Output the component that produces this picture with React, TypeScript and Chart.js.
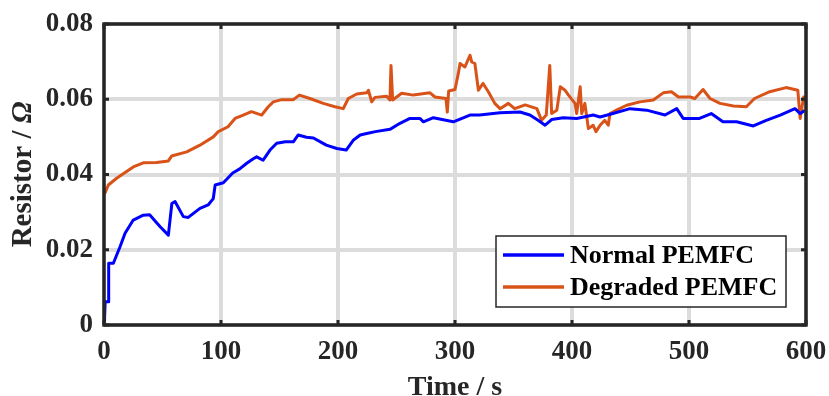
import React, { useEffect, useRef } from "react";
import { Chart, registerables } from "chart.js";

Chart.register(...registerables);

// Normal stack: time (s) and ohmic resistance (Ω)
const normalTime = [
  0, 0.5, 1, 3.7, 4, 8, 13.7, 18, 25, 33.6, 39, 48, 55, 58, 60.7, 67.8, 72, 82, 89, 93.4,
  95, 102, 110, 116, 122, 127.6, 130.5, 136, 141.9, 147.6, 155, 161.8, 166, 173, 179, 190,
  199, 207, 213, 219, 224.5, 232, 244.4, 253, 261.5, 270, 273, 281.5, 298.6, 312.8, 321,
  338.5, 355.5, 364, 371, 377, 382.6, 392.6, 404, 418, 424, 435, 449.6, 463.8, 479.5, 489.5,
  495, 509, 519, 529, 540.7, 555, 566, 578, 590.6, 595, 599,
];
const normalRes = [
  0.001, 0.002, 0.0062, 0.0062, 0.0164, 0.0164, 0.0208, 0.0244, 0.0279, 0.0292, 0.0293,
  0.0261, 0.0239, 0.0323, 0.0328, 0.0288, 0.0286, 0.031, 0.0319, 0.0336, 0.0372, 0.0378,
  0.0404, 0.0415, 0.043, 0.0442, 0.0447, 0.0438, 0.0465, 0.0483, 0.0487, 0.0487, 0.0505,
  0.0499, 0.0497, 0.0478, 0.0469, 0.0465, 0.0491, 0.0505, 0.0509, 0.0514, 0.052, 0.0536,
  0.0549, 0.0549, 0.054, 0.0551, 0.054, 0.0558, 0.0558, 0.0564, 0.0566, 0.0558, 0.0544,
  0.0531, 0.0546, 0.0551, 0.0549, 0.0558, 0.0553, 0.0562, 0.0575, 0.0571, 0.0558, 0.0575,
  0.0549, 0.0549, 0.0562, 0.054, 0.054, 0.0529, 0.0544, 0.0558, 0.0575, 0.0562, 0.057,
];

// Degraded stack: time (s) and ohmic resistance (Ω)
const degradedTime = [
  0, 1, 3.7, 10.8, 25, 33.6, 45, 55, 57.8, 70.7, 82, 93.4, 97.7, 106, 112, 119, 126, 134.8,
  140.4, 144.7, 151.9, 161.8, 167, 176, 187.4, 197.4, 204.5, 208.8, 216, 224.5, 226, 228.8,
  231.6, 241.6, 244.4, 245.3, 246.7, 254.4, 264.4, 278.6, 282.9, 292.3, 293.4, 294.6, 300,
  302.8, 304.3, 308.5, 312.8, 314.3, 317, 320, 324, 328.5, 334, 338.5, 345.6, 351, 360, 370,
  374, 378, 381, 382.6, 387, 390, 394, 397, 402.6, 404, 407, 408.3, 411, 414, 418, 420.5,
  424, 428, 431, 432.5, 438, 446.7, 458, 469.5, 478, 485, 491, 501, 505, 512, 518, 526.5,
  538, 549, 556, 569, 583, 593, 595, 598, 599.5,
];
const degradedRes = [
  0.0348, 0.0352, 0.0372, 0.039, 0.042, 0.0431, 0.0432, 0.0436, 0.0449, 0.046, 0.0478, 0.05,
  0.0514, 0.0527, 0.0549, 0.0558, 0.0567, 0.0558, 0.058, 0.0593, 0.0599, 0.0599, 0.0611,
  0.0602, 0.0589, 0.058, 0.0575, 0.0602, 0.0614, 0.0617, 0.0624, 0.0593, 0.0605, 0.0608,
  0.0598, 0.069, 0.0598, 0.0616, 0.0611, 0.0617, 0.0606, 0.0602, 0.0566, 0.0622, 0.0626,
  0.0668, 0.0695, 0.0686, 0.0717, 0.0699, 0.0695, 0.0624, 0.0642, 0.062, 0.0589, 0.0575,
  0.0589, 0.0575, 0.0585, 0.0575, 0.0544, 0.0558, 0.069, 0.0562, 0.0571, 0.0633, 0.0624,
  0.0611, 0.0589, 0.0562, 0.0633, 0.0562, 0.0589, 0.0522, 0.0531, 0.0514, 0.0531, 0.0544,
  0.0531, 0.0562, 0.0571, 0.0584, 0.0593, 0.0598, 0.0617, 0.062, 0.0606, 0.0606, 0.0602,
  0.0626, 0.0602, 0.0589, 0.0582, 0.058, 0.0602, 0.062, 0.0631, 0.0624, 0.0549, 0.0606,
  0.0594,
];

const xTicks = [0, 100, 200, 300, 400, 500, 600];
const yTicks = [0, 0.02, 0.04, 0.06, 0.08];
const xTitle = "Time / s";
const yTitleText = "Resistor / ";
const yTitleSymbol = "Ω";
const seriesLabels = ["Normal PEMFC", "Degraded PEMFC"];
const seriesColors = ["#0000ff", "#d95319"];

const W = 829;
const H = 396;
const FONT = "'Liberation Serif', 'Times New Roman', serif";
const INK = "#262626";

const framePlugin = {
  id: "frame",
  afterDatasetsDraw(chart: any) {
    const { ctx, chartArea } = chart;
    const { left, right, top, bottom } = chartArea;
    const xs = chart.scales.x;
    const ys = chart.scales.y;
    ctx.save();
    // inward tick marks on all four sides
    ctx.strokeStyle = INK;
    ctx.lineWidth = 3;
    const tl = 5;
    xTicks.forEach((v) => {
      const px = xs.getPixelForValue(v);
      ctx.beginPath();
      ctx.moveTo(px, bottom);
      ctx.lineTo(px, bottom - tl);
      ctx.moveTo(px, top);
      ctx.lineTo(px, top + tl);
      ctx.stroke();
    });
    yTicks.forEach((v) => {
      const py = ys.getPixelForValue(v);
      ctx.beginPath();
      ctx.moveTo(left, py);
      ctx.lineTo(left + tl, py);
      ctx.moveTo(right, py);
      ctx.lineTo(right - tl, py);
      ctx.stroke();
    });
    // box
    ctx.lineWidth = 3.5;
    ctx.strokeStyle = INK;
    ctx.strokeRect(left, top, right - left, bottom - top);

    // legend
    const bw = 290;
    const bh = 71;
    const bx = right - 20 - bw;
    const by = bottom - 18 - bh;
    ctx.fillStyle = "#ffffff";
    ctx.fillRect(bx, by, bw, bh);
    ctx.lineWidth = 1.5;
    ctx.strokeStyle = INK;
    ctx.strokeRect(bx, by, bw, bh);
    ctx.font = `bold 26px ${FONT}`;
    ctx.textAlign = "left";
    ctx.textBaseline = "middle";
    seriesLabels.forEach((lab, i) => {
      const cy = by + 19 + i * 32;
      ctx.strokeStyle = seriesColors[i];
      ctx.lineWidth = 3.5;
      ctx.beginPath();
      ctx.moveTo(bx + 7, cy);
      ctx.lineTo(bx + 68, cy);
      ctx.stroke();
      ctx.fillStyle = "#000000";
      ctx.fillText(lab, bx + 74, cy + 1);
    });

    // axis titles
    ctx.fillStyle = INK;
    ctx.font = `bold 28px ${FONT}`;
    ctx.textAlign = "center";
    ctx.textBaseline = "alphabetic";
    ctx.fillText(xTitle, (left + right) / 2, 395);

    ctx.translate(24, (top + bottom) / 2);
    ctx.rotate(-Math.PI / 2);
    ctx.font = `bold 29px ${FONT}`;
    const w1 = ctx.measureText(yTitleText).width;
    ctx.font = `italic bold 29px ${FONT}`;
    const w2 = ctx.measureText(yTitleSymbol).width;
    const start = -(w1 + w2) / 2;
    ctx.textAlign = "left";
    ctx.textBaseline = "middle";
    ctx.font = `bold 29px ${FONT}`;
    ctx.fillText(yTitleText, start, 0);
    ctx.font = `italic bold 29px ${FONT}`;
    ctx.fillText(yTitleSymbol, start + w1, 0);
    ctx.restore();
  },
};

const zeroPad = (s: any) => {
  s.paddingLeft = 0;
  s.paddingRight = 0;
  s.paddingTop = 0;
  s.paddingBottom = 0;
};

export default function App() {
  const canvasRef = useRef<HTMLCanvasElement | null>(null);

  useEffect(() => {
    const canvas = canvasRef.current;
    if (!canvas) return;
    const mk = (ts: number[], vs: number[]) => ts.map((t, i) => ({ x: t, y: vs[i] }));
    const chart = new Chart(canvas, {
      type: "line",
      data: {
        datasets: [
          {
            label: seriesLabels[0],
            data: mk(normalTime, normalRes),
            borderColor: seriesColors[0],
            borderWidth: 3,
            pointRadius: 0,
            tension: 0,
            borderJoinStyle: "round",
          },
          {
            label: seriesLabels[1],
            data: mk(degradedTime, degradedRes),
            borderColor: seriesColors[1],
            borderWidth: 3,
            pointRadius: 0,
            tension: 0,
            borderJoinStyle: "round",
          },
        ],
      },
      options: {
        responsive: false,
        animation: false,
        devicePixelRatio: 1,
        layout: { padding: { left: 0, top: 24, right: 23, bottom: 0 } },
        plugins: { legend: { display: false }, tooltip: { enabled: false } },
        scales: {
          x: {
            type: "linear",
            min: 0,
            max: 600,
            afterBuildTicks: (s: any) => {
              s.ticks = xTicks.map((v) => ({ value: v }));
            },
            afterFit: (s: any) => {
              s.height = H - 325;
              zeroPad(s);
            },
            ticks: {
              font: { family: FONT, size: 27, weight: "bold" },
              color: INK,
              padding: 11,
              maxRotation: 0,
              callback: (v: any) => String(v),
            },
            grid: { color: "#dcdcdc", lineWidth: 4, drawTicks: false },
            border: { display: false },
          },
          y: {
            type: "linear",
            min: 0,
            max: 0.08,
            afterBuildTicks: (s: any) => {
              s.ticks = yTicks.map((v) => ({ value: v }));
            },
            afterFit: (s: any) => {
              s.width = 104;
              zeroPad(s);
            },
            ticks: {
              font: { family: FONT, size: 27, weight: "bold" },
              color: INK,
              padding: 11,
              callback: (v: any) => (v === 0 ? "0" : Number(v).toFixed(2)),
            },
            grid: { color: "#dcdcdc", lineWidth: 4, drawTicks: false },
            border: { display: false },
          },
        },
      },
      plugins: [framePlugin],
    } as any);
    return () => chart.destroy();
  }, []);

  return (
    <div style={{ position: "fixed", left: 0, top: 0, width: W, height: H, background: "#fff" }}>
      <canvas ref={canvasRef} width={W} height={H} style={{ width: W, height: H, display: "block" }} />
    </div>
  );
}
